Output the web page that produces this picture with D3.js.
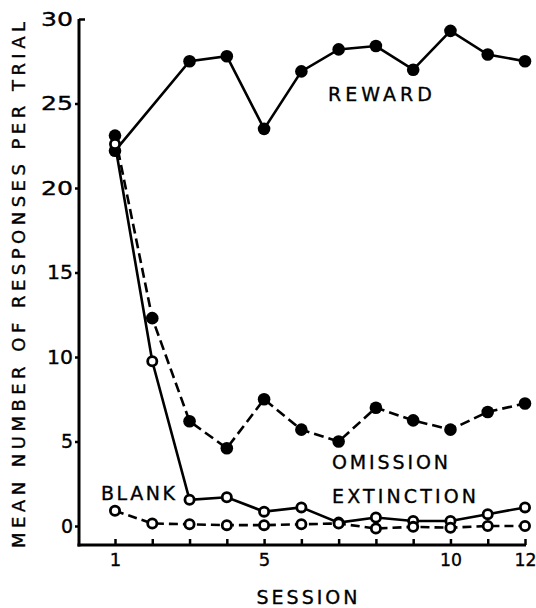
<!DOCTYPE html>
<html>
<head>
<meta charset="utf-8">
<script src="https://cdn.jsdelivr.net/npm/d3@7/dist/d3.min.js"></script>
<style>
  html, body { margin: 0; padding: 0; background: #fff; }
  svg { display: block; }
  text { font-family: "DejaVu Sans", "Liberation Sans", Arial, sans-serif; fill: #000; stroke: #000; stroke-width: 0.35px; }
</style>
</head>
<body>
<script>
// ---- Data ----
const sessions = [1, 2, 3, 4, 5, 6, 7, 8, 9, 10, 11, 12];
const rewardSessions = [1, 3, 4, 5, 6, 7, 8, 9, 10, 11, 12];
const reward     = [22.2, 27.5, 27.8, 23.5, 26.9, 28.2, 28.4, 27.0, 29.3, 27.9, 27.5];
const omission   = [23.1, 12.3, 6.2, 4.6, 7.5, 5.7, 5.0, 7.0, 6.25, 5.7, 6.75, 7.25];
const extinction = [22.6, 9.75, 1.55, 1.7, 0.85, 1.1, 0.2, 0.5, 0.3, 0.3, 0.7, 1.1];
const blank      = [0.9, 0.15, 0.1, 0.05, 0.05, 0.1, 0.15, -0.15, -0.05, -0.1, 0, 0];
const yTicks = [0, 5, 10, 15, 20, 25, 30];
const xTickLabels = [1, 5, 10, 12];
const yTitle = "MEAN NUMBER OF RESPONSES PER TRIAL";
const xTitle = "SESSION";

const W = 536, H = 608;
const svg = d3.select("body").append("svg").attr("width", W).attr("height", H);

const x = d3.scaleLinear().domain([1, 12]).range([115, 525]);
const y = d3.scaleLinear().domain([0, 30]).range([526, 19]);
const axisX = 79, axisY = 545;

// width of hand-lettered numerals (wide, geometric)
const numWidth = s => s.split("").reduce((a, c) => a + (c === "1" ? 10 : 16), 0);

// axes lines
svg.append("line").attr("x1", axisX).attr("x2", axisX).attr("y1", y(30)).attr("y2", axisY + 1.5)
  .attr("stroke", "#000").attr("stroke-width", 3);
svg.append("line").attr("x1", axisX - 1.5).attr("x2", x(12) + 1).attr("y1", axisY).attr("y2", axisY)
  .attr("stroke", "#000").attr("stroke-width", 3);

// y axis
const gy = svg.append("g").attr("transform", `translate(${axisX},0)`)
  .call(d3.axisLeft(y).tickValues(yTicks).tickSize(4).tickPadding(2).tickSizeOuter(0));
gy.select(".domain").remove();
gy.selectAll(".tick line").attr("stroke", "#000").attr("stroke-width", 2.5);
gy.selectAll(".tick").filter(d => d === 30).select("line").attr("x2", 6);
gy.selectAll(".tick text")
  .attr("font-family", null)
  .style("font-size", "19px")
  .each(function(d) {
    const s = String(d);
    if (s.length > 1) d3.select(this).attr("textLength", numWidth(s)).attr("lengthAdjust", "spacingAndGlyphs");
  });

// x axis
const gx = svg.append("g").attr("transform", `translate(0,${axisY})`)
  .call(d3.axisBottom(x).tickValues(sessions).tickSize(-6).tickPadding(8).tickSizeOuter(0)
    .tickFormat(d => xTickLabels.includes(d) ? String(d) : ""));
gx.select(".domain").remove();
gx.selectAll(".tick line").attr("stroke", "#000").attr("stroke-width", 2.5);
gx.selectAll(".tick text")
  .attr("font-family", null)
  .style("font-size", "18px")
  .each(function(d) {
    const s = xTickLabels.includes(d) ? String(d) : "";
    if (s.length > 1) d3.select(this).attr("textLength", numWidth(s) - 4).attr("lengthAdjust", "spacingAndGlyphs");
  });

// titles
svg.append("text").attr("transform", "translate(25,285) rotate(-90)")
  .attr("text-anchor", "middle").style("font-size", "18px")
  .attr("textLength", 526).attr("lengthAdjust", "spacing").text(yTitle);
svg.append("text").attr("x", 307).attr("y", 604).attr("text-anchor", "middle")
  .style("font-size", "19px").attr("textLength", 101).attr("lengthAdjust", "spacing").text(xTitle);

// series labels
const labels = [
  {t: "REWARD", x: 328, y: 101, w: 104},
  {t: "OMISSION", x: 332, y: 469, w: 116},
  {t: "EXTINCTION", x: 332, y: 503, w: 144},
  {t: "BLANK", x: 101, y: 500, w: 74}
];
labels.forEach(l => {
  svg.append("text").attr("x", l.x).attr("y", l.y).style("font-size", "19px")
    .attr("textLength", l.w).attr("lengthAdjust", "spacing").text(l.t);
});

const line = d3.line().x(d => x(d[0])).y(d => y(d[1]));
const series = [
  {xs: rewardSessions, ys: reward, dash: null, filled: true},
  {xs: sessions, ys: omission, dash: "10,5", filled: true},
  {xs: sessions, ys: extinction, dash: null, filled: false},
  {xs: sessions, ys: blank, dash: "9,5", filled: false}
];

series.forEach(s => {
  const pts = s.xs.map((v, i) => [v, s.ys[i]]);
  svg.append("path").datum(pts).attr("d", line).attr("fill", "none")
    .attr("stroke", "#000").attr("stroke-width", 2.6)
    .attr("stroke-dasharray", s.dash);
});
series.forEach(s => {
  const pts = s.xs.map((v, i) => [v, s.ys[i]]);
  svg.append("g").selectAll("circle").data(pts).join("circle")
    .attr("cx", d => x(d[0])).attr("cy", d => y(d[1]))
    .attr("r", s.filled ? 6.3 : 4.6)
    .attr("fill", s.filled ? "#000" : "#fff")
    .attr("stroke", "#000").attr("stroke-width", s.filled ? 0 : 2.8);
});
</script>
</body>
</html>
